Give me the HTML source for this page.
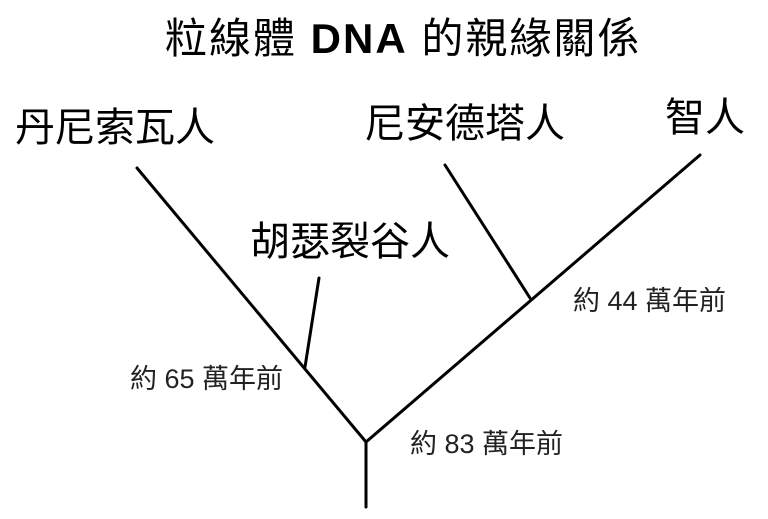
<!DOCTYPE html>
<html><head><meta charset="utf-8"><style>
html,body{margin:0;padding:0;background:#fff;}
body{width:768px;height:519px;position:relative;overflow:hidden;font-family:"Liberation Sans","Noto Sans CJK TC",sans-serif;color:#000;}
.t{position:absolute;white-space:nowrap;line-height:1;}
.big{font-size:40px;}
.sm{font-size:27px;color:#222;}
</style></head><body>
<svg width="768" height="519" style="position:absolute;left:0;top:0">
<g stroke="#000" stroke-width="3" fill="none" stroke-linecap="round">
<line x1="366" y1="442" x2="366" y2="507"/>
<line x1="366" y1="442" x2="137" y2="168"/>
<line x1="366" y1="442" x2="700" y2="155"/>
<line x1="305" y1="367" x2="319" y2="278"/>
<line x1="530" y1="298" x2="445" y2="165"/>
</g></svg>
<div class="t big" style="left:165px;top:18px;font-size:42px;letter-spacing:2px;">粒線體 <b>DNA</b> 的親緣關係</div>
<div class="t big" style="left:15px;top:108px;">丹尼索瓦人</div>
<div class="t big" style="left:365px;top:104px;">尼安德塔人</div>
<div class="t big" style="left:665px;top:98px;">智人</div>
<div class="t big" style="left:250px;top:222px;">胡瑟裂谷人</div>
<div class="t sm" style="left:130px;top:366px;">約 65 萬年前</div>
<div class="t sm" style="left:573px;top:288px;">約 44 萬年前</div>
<div class="t sm" style="left:410px;top:431px;">約 83 萬年前</div>
</body></html>
